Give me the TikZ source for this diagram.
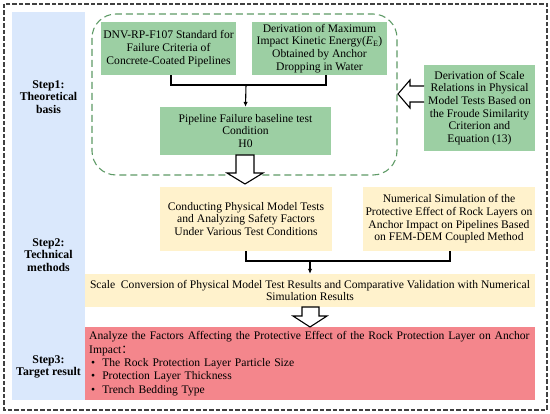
\documentclass[tikz,border=0pt]{standalone}
\usepackage{fontspec}
\setmainfont{Liberation Serif}
\newfontfamily\cjk{Noto Sans CJK SC}
\usetikzlibrary{arrows.meta,calc}
\definecolor{bluecol}{HTML}{DAE8FC}
\definecolor{greencol}{HTML}{9CCFA3}
\definecolor{gdash}{HTML}{5E9A66}
\definecolor{yelcol}{HTML}{FFF2CC}
\definecolor{redcol}{HTML}{F4868C}
\begin{document}
\begin{tikzpicture}[x=1pt,y=-1pt,
  txt/.style={font=\fontsize{11.6}{12.7}\selectfont, align=center, inner sep=0pt},
  gbox/.style={txt, fill=greencol, draw=none},
  ybox/.style={txt, fill=yelcol, draw=none},
  conn/.style={line width=1.1pt, black},
  arr/.style={conn, -{Latex[length=5pt,width=4.5pt]}},
  hollow/.style={line width=1.1pt, black, fill=white, line join=miter},
  steplab/.style={font=\bfseries\fontsize{11.8}{12.7}\selectfont, align=center, inner sep=0pt}
]
\useasboundingbox (0,0) rectangle (550,414);
% outer border
\draw[line width=1.3pt, black!75, dash pattern=on 4.5pt off 2pt] (4,4) rectangle (547,410);
% blue column
\fill[bluecol] (12,12) rectangle (85,400);
\node[steplab] (s1) at (48.5,97) {Step1:\\Theoretical\\basis};
\node[steplab] (s2) at (48.5,255) {Step2:\\Technical\\methods};
\node[steplab] (s3) at (48.5,367) {Step3:\\Target result};
% green dashed rounded region
\draw[gdash, line width=1.1pt, dash pattern=on 7pt off 4pt, rounded corners=24pt] (92,14) rectangle (397,175);
% green boxes
\node[gbox, minimum width=135pt, minimum height=53pt] (b1) at (168.5,48.5)
  {DNV-RP-F107 Standard for\\Failure Criteria of\\Concrete-Coated Pipelines};
\node[gbox, minimum width=135pt, minimum height=53pt] (b2) at (319.5,48.5)
  {Derivation of Maximum\\Impact Kinetic Energy(\textit{E}\textsubscript{E})\\Obtained by Anchor\\Dropping in Water};
\node[gbox, minimum width=171pt, minimum height=48pt] (h0) at (245.5,131)
  {Pipeline Failure baseline test\\Condition\\H0};
\node[gbox, minimum width=111pt, minimum height=86pt] (fr) at (479.5,108)
  {Derivation of Scale\\Relations in Physical\\Model Tests Based on\\the Froude Similarity\\Criterion and\\Equation (13)};
% yellow boxes
\node[ybox, minimum width=172pt, minimum height=64pt] (y1) at (246,219)
  {Conducting Physical Model Tests\\and Analyzing Safety Factors\\Under Various Test Conditions};
\node[ybox, minimum width=172pt, minimum height=64pt] (y2) at (449,219)
  {Numerical Simulation of the\\Protective Effect of Rock Layers on\\Anchor Impact on Pipelines Based\\on FEM-DEM Coupled Method};
\node[ybox, minimum width=450pt, minimum height=33pt] (sc) at (310,290.5)
  {Scale~ Conversion of Physical Model Test Results and Comparative Validation with Numerical\\Simulation Results};
% red box
\node[txt, font=\fontsize{11.6}{13.3}\selectfont, fill=redcol, minimum width=450pt, minimum height=73pt, align=left, anchor=north west, text width=442pt, inner xsep=4pt] (rd) at (85,327)
  {Analyze the Factors Affecting the Protective Effect of the Rock Protection Layer on Anchor\\
   Impact{\cjk ：}\\
   \hspace*{2pt}\textbullet\hspace{7pt}The Rock Protection Layer Particle Size\\
   \hspace*{2pt}\textbullet\hspace{7pt}Protection Layer Thickness\\
   \hspace*{2pt}\textbullet\hspace{7pt}Trench Bedding Type};
% connectors top
\coordinate (j1) at (246,85);
\draw[conn] ([xshift=2.5pt]b1.south) |- (j1) -| ([xshift=6.5pt]b2.south);
\draw[arr] (j1) -- (h0.north);
% connectors middle
\coordinate (j2) at (310,261);
\draw[conn] ([xshift=1pt]y2.south) |- (j2) -| (y1.south);
\draw[arr] (j2) -- (sc.north);
% hollow arrows
\draw[hollow] (236,155) -- (254,155) -- (254,173) -- (263,173) -- (245,184) -- (227,173) -- (236,173) -- cycle;
\draw[hollow] (424,86) -- (410,86) -- (410,80) -- (398,94) -- (410,108) -- (410,102) -- (424,102);
\draw[hollow] (302,307) -- (319,307) -- (319,316) -- (327,316) -- (310,327) -- (293,316) -- (302,316) -- cycle;
\end{tikzpicture}
\end{document}
